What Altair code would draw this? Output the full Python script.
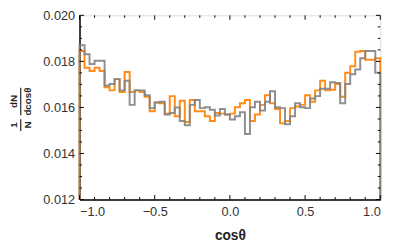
import altair as alt
import pandas as pd

orange_vals = [0.01845, 0.01772, 0.01758, 0.01772, 0.01758, 0.01688, 0.01674, 0.01723, 0.01667, 0.01754,
               0.01667, 0.01674, 0.01667, 0.01646, 0.01583, 0.01621, 0.01618, 0.01573, 0.01649, 0.01562,
               0.01629, 0.01537, 0.01632, 0.01583, 0.01583, 0.01562, 0.01541, 0.01576, 0.01573, 0.01569,
               0.01573, 0.01601, 0.01618, 0.01632, 0.01541, 0.01569, 0.01611, 0.01653, 0.01618, 0.01593,
               0.01531, 0.01541, 0.01597, 0.01604, 0.01611, 0.01653, 0.01625, 0.01674, 0.01716, 0.01674,
               0.01677, 0.01702, 0.01646, 0.01751, 0.01779, 0.01842, 0.01845, 0.01807, 0.01807, 0.01814]
gray_vals = [0.01870, 0.01831, 0.01789, 0.01803, 0.01803, 0.01695, 0.01702, 0.01723, 0.01674, 0.01716,
             0.01611, 0.01674, 0.01674, 0.01653, 0.01597, 0.01621, 0.01625, 0.01569, 0.01576, 0.01600,
             0.01541, 0.01523, 0.01611, 0.01632, 0.01597, 0.01601, 0.01590, 0.01565, 0.01593, 0.01569,
             0.01548, 0.01562, 0.01579, 0.01485, 0.01601, 0.01625, 0.01587, 0.01625, 0.01670, 0.01601,
             0.01597, 0.01527, 0.01562, 0.01618, 0.01601, 0.01597, 0.01639, 0.01649, 0.01681, 0.01681,
             0.01709, 0.01706, 0.01618, 0.01702, 0.01744, 0.01765, 0.01814, 0.01845, 0.01845, 0.01751]

x_major = [-1.0, -0.5, 0.0, 0.5, 1.0]
x_minor = [-0.9, -0.8, -0.7, -0.6, -0.4, -0.3, -0.2, -0.1, 0.1, 0.2, 0.3, 0.4, 0.6, 0.7, 0.8, 0.9]
y_major = [0.012, 0.014, 0.016, 0.018, 0.020]
y_minor = [0.0125, 0.013, 0.0135, 0.0145, 0.015, 0.0155, 0.0165, 0.017, 0.0175, 0.0185, 0.019, 0.0195]

X_DOMAIN = [-1.0, 1.0]
Y_DOMAIN = [0.012, 0.020]
W, H = 307, 188


def step_rows(vals, name):
    w = 2.0 / len(vals)
    rows = [{"x": -1.0, "y": Y_DOMAIN[0], "s": name, "o": 0}]
    for i, v in enumerate(vals):
        rows.append({"x": -1.0 + i * w, "y": v, "s": name, "o": i + 1})
    rows.append({"x": 1.0, "y": vals[-1], "s": name, "o": len(vals) + 1})
    rows.append({"x": 1.0, "y": Y_DOMAIN[0], "s": name, "o": len(vals) + 2})
    return pd.DataFrame(rows)


xs = alt.Scale(domain=X_DOMAIN, nice=False, zero=False)
ys = alt.Scale(domain=Y_DOMAIN, nice=False, zero=False)

x_axis = alt.Axis(values=x_major, format=".1f", title="cosθ", ticks=False, grid=False,
                  domainColor="black", domainWidth=1.5, labelPadding=6, labelFontSize=13,
                  labelColor="#333333", titleFontSize=14, titleFontWeight="bold",
                  titlePadding=11, titleColor="#222222", labelFont="Liberation Sans",
                  titleFont="Liberation Sans")
y_axis = alt.Axis(values=y_major, format=".3f", title=None, ticks=False, grid=False,
                  domainColor="black", domainWidth=1.5, labelPadding=5, labelFontSize=13,
                  labelColor="#333333", labelFont="Liberation Sans")


def hist_layer(vals, name, color):
    df = step_rows(vals, name)
    return alt.Chart(df).mark_line(interpolate="step-after", strokeWidth=2, color=color,
                                   opacity=0.9, clip=False).encode(
        x=alt.X("x:Q", scale=xs, axis=x_axis),
        y=alt.Y("y:Q", scale=ys, axis=y_axis),
        order="o:Q",
    )


orange = hist_layer(orange_vals, "orange", "#ff8000")
gray = hist_layer(gray_vals, "gray", "#838383")


def xticks(vals, length):
    df = pd.DataFrame({"t": vals})
    bottom = alt.Chart(df).mark_rule(color="black", strokeWidth=1).encode(
        x=alt.X("t:Q", scale=xs, axis=x_axis), y=alt.value(H), y2=alt.value(H - length))
    top = alt.Chart(df).mark_rule(color="black", strokeWidth=1).encode(
        x=alt.X("t:Q", scale=xs, axis=x_axis), y=alt.value(0), y2=alt.value(length))
    return bottom + top


def yticks(vals, length):
    df = pd.DataFrame({"t": vals})
    left = alt.Chart(df).mark_rule(color="black", strokeWidth=1).encode(
        y=alt.Y("t:Q", scale=ys, axis=y_axis), x=alt.value(0), x2=alt.value(length))
    right = alt.Chart(df).mark_rule(color="black", strokeWidth=1).encode(
        y=alt.Y("t:Q", scale=ys, axis=y_axis), x=alt.value(W), x2=alt.value(W - length))
    return left + right


ticks = xticks(x_major, 4.5) + xticks(x_minor, 2.5) + yticks(y_major, 4.5) + yticks(y_minor, 2.5)

# y-axis title as a rotated fraction: (1/N) (dN/dcosθ)
lab = pd.DataFrame({"a": [0]})


def rtext(txt, x, y):
    return alt.Chart(lab).mark_text(angle=270, font="Liberation Sans", fontWeight="bold",
                                    fontSize=10, color="#222222", baseline="middle",
                                    align="center").encode(
        x=alt.value(x), y=alt.value(y), text=alt.value(txt))


def rbar(x, y1, y2):
    return alt.Chart(lab).mark_rule(color="#222222", strokeWidth=1.2).encode(
        x=alt.value(x), y=alt.value(y1), y2=alt.value(y2))


ytitle = (rtext("1", -67, 112) + rtext("N", -53, 112) + rbar(-60, 106, 118)
          + rtext("dN", -67, 88) + rtext("dcosθ", -53, 88) + rbar(-60, 74, 102))

chart = alt.layer(orange, gray, ticks, ytitle).properties(
    width=W, height=H,
    padding={"left": 73, "top": 5, "right": 14, "bottom": 47},
    autosize=alt.AutoSizeParams(type="none"),
).configure_view(stroke="black", strokeWidth=1.5).configure(font="Liberation Sans")

chart.save("out.html", embed_options={"renderer": "svg", "actions": False})
